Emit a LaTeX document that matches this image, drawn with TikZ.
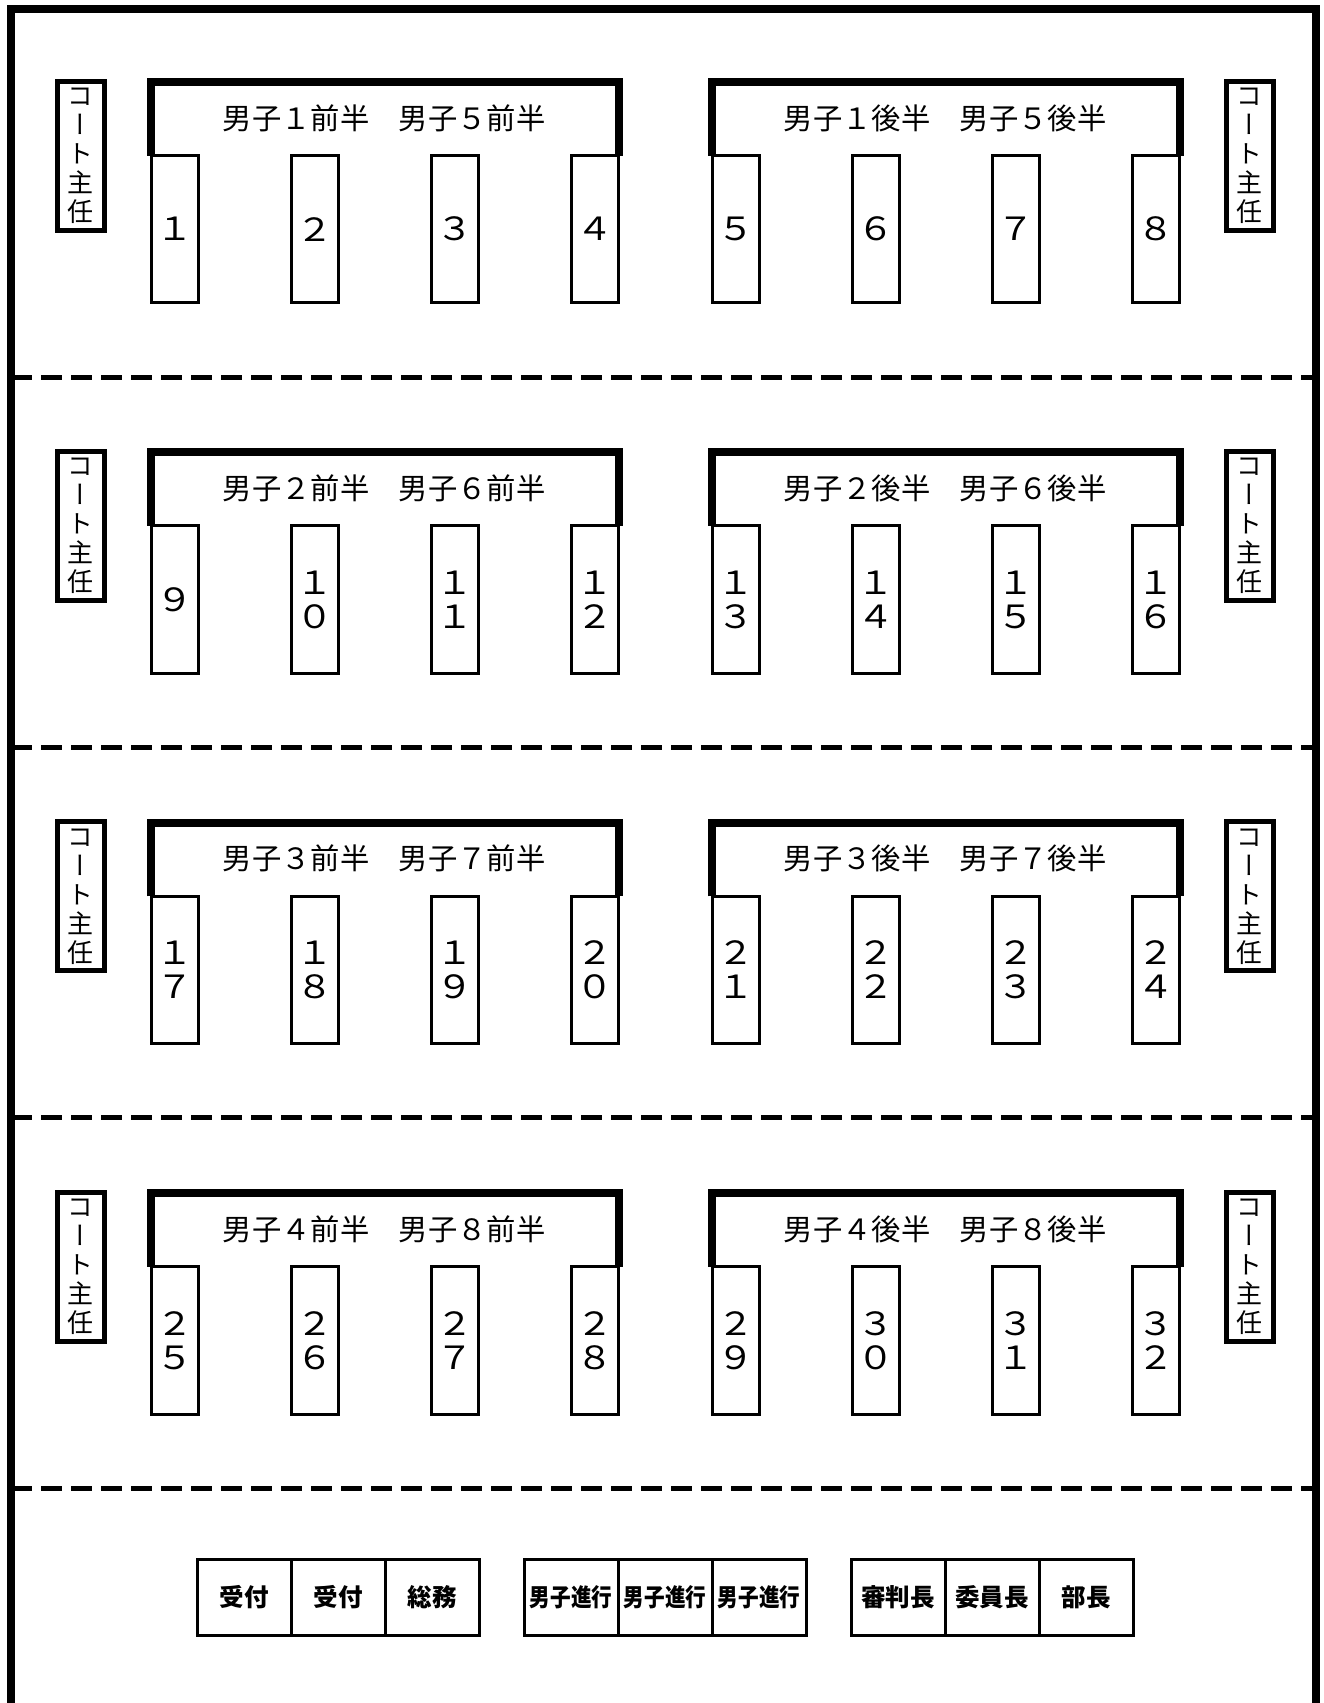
\documentclass[tikz,border=0pt]{standalone}
\usepackage{fontspec}
\usepackage{graphicx}
\setmainfont{Noto Sans CJK JP}
\newfontfamily\jpvert[RawFeature=+vert]{Noto Sans CJK JP}
\usetikzlibrary{positioning}

% full-width digits
\newcommand\zen[1]{\scalebox{1.15}[1]{\ifcase#1 ０\or １\or ２\or ３\or ４\or ５\or ６\or ７\or ８\or ９\fi}}

\tikzset{
  frame/.style={line width=6pt},
  divline/.style={line width=3.75pt, dash pattern=on 15.75pt off 6.75pt},
  hdbar/.style={line width=6pt},
  hdlabel/.style={font=\fontsize{22}{24}\selectfont, inner sep=0pt},
  numbox/.style={draw, line width=2.25pt, outer sep=0pt, inner sep=0pt,
    minimum width=35.25pt, minimum height=110.5pt, align=center,
    font=\fontsize{24}{25.5}\selectfont},
  chief/.style={draw, line width=3.75pt, outer sep=0pt, inner sep=0pt,
    minimum width=35.25pt, minimum height=111.75pt, align=center,
    font=\jpvert\fontsize{19.5}{21.75}\selectfont},
  staff/.style={draw, line width=2.25pt, outer sep=0pt, inner sep=0pt,
    minimum width=70.5pt, minimum height=57pt,
    font=\fontsize{18.4}{20}\selectfont\bfseries},
}

\begin{document}
\begin{tikzpicture}[x=0.75pt,y=-0.75pt]
  \useasboundingbox (0,0) rectangle (1324,1703);

  % hall outline and court dividers
  \draw[frame] (11,1703) -- (11,8.5) -- (1316,8.5) -- (1316,1703);
  \foreach \k in {1,...,4}{
    \draw[divline] (11,{6.6+370.4*\k}) -- (1316,{6.6+370.4*\k});
  }

  % courts
  \foreach \k/\fa/\fb in {0/１/５,1/２/６,2/３/７,3/４/８}{
    \pgfmathsetmacro\yy{370.4*\k}
    \foreach \i/\x in {0/174.5,1/314.7,2/454.9,3/595.1,4/735.5,5/875.7,6/1015.9,7/1156.1}{
      \pgfmathtruncatemacro\n{8*\k+\i+1}
      \pgfmathtruncatemacro\tens{\n/10}
      \pgfmathtruncatemacro\ones{mod(\n,10)}
      \node[numbox] (t\n) at (\x,229.2+\yy)
        {\ifnum\n<10 \zen{\n}\else\zen{\tens}\\\zen{\ones}\fi};
    }
    \pgfmathtruncatemacro\ta{8*\k+1}
    \pgfmathtruncatemacro\tb{8*\k+4}
    \pgfmathtruncatemacro\tc{8*\k+5}
    \pgfmathtruncatemacro\td{8*\k+8}
    \draw[hdbar] (t\ta.north west) -- ++(0,-73.5) -| (t\tb.north east);
    \draw[hdbar] (t\tc.north west) -- ++(0,-73.5) -| (t\td.north east);
    \node[hdlabel] (hl\k) at (384.3,118+\yy) {男子\fa 前半　男子\fb 前半};
    \node[hdlabel] (hr\k) at (945.3,118+\yy) {男子\fa 後半　男子\fb 後半};
    \node[chief] (cl\k) at (80.5,155.5+\yy) {コ\\ー\\ト\\主\\任};
    \node[chief] (cr\k) at (1249.5,155.5+\yy) {コ\\ー\\ト\\主\\任};
  }

  % staff desks
  \foreach \s/\x/\txt in {1/244/受付, 2/338/受付, 3/432/総務,
      4/571/\scalebox{0.84}[1]{男子進行}, 5/665/\scalebox{0.84}[1]{男子進行},
      6/759/\scalebox{0.84}[1]{男子進行},
      7/898/審判長, 8/992/委員長, 9/1086/部長}{
    \node[staff] (s\s) at (\x,1597) {\txt};
  }
\end{tikzpicture}
\end{document}
